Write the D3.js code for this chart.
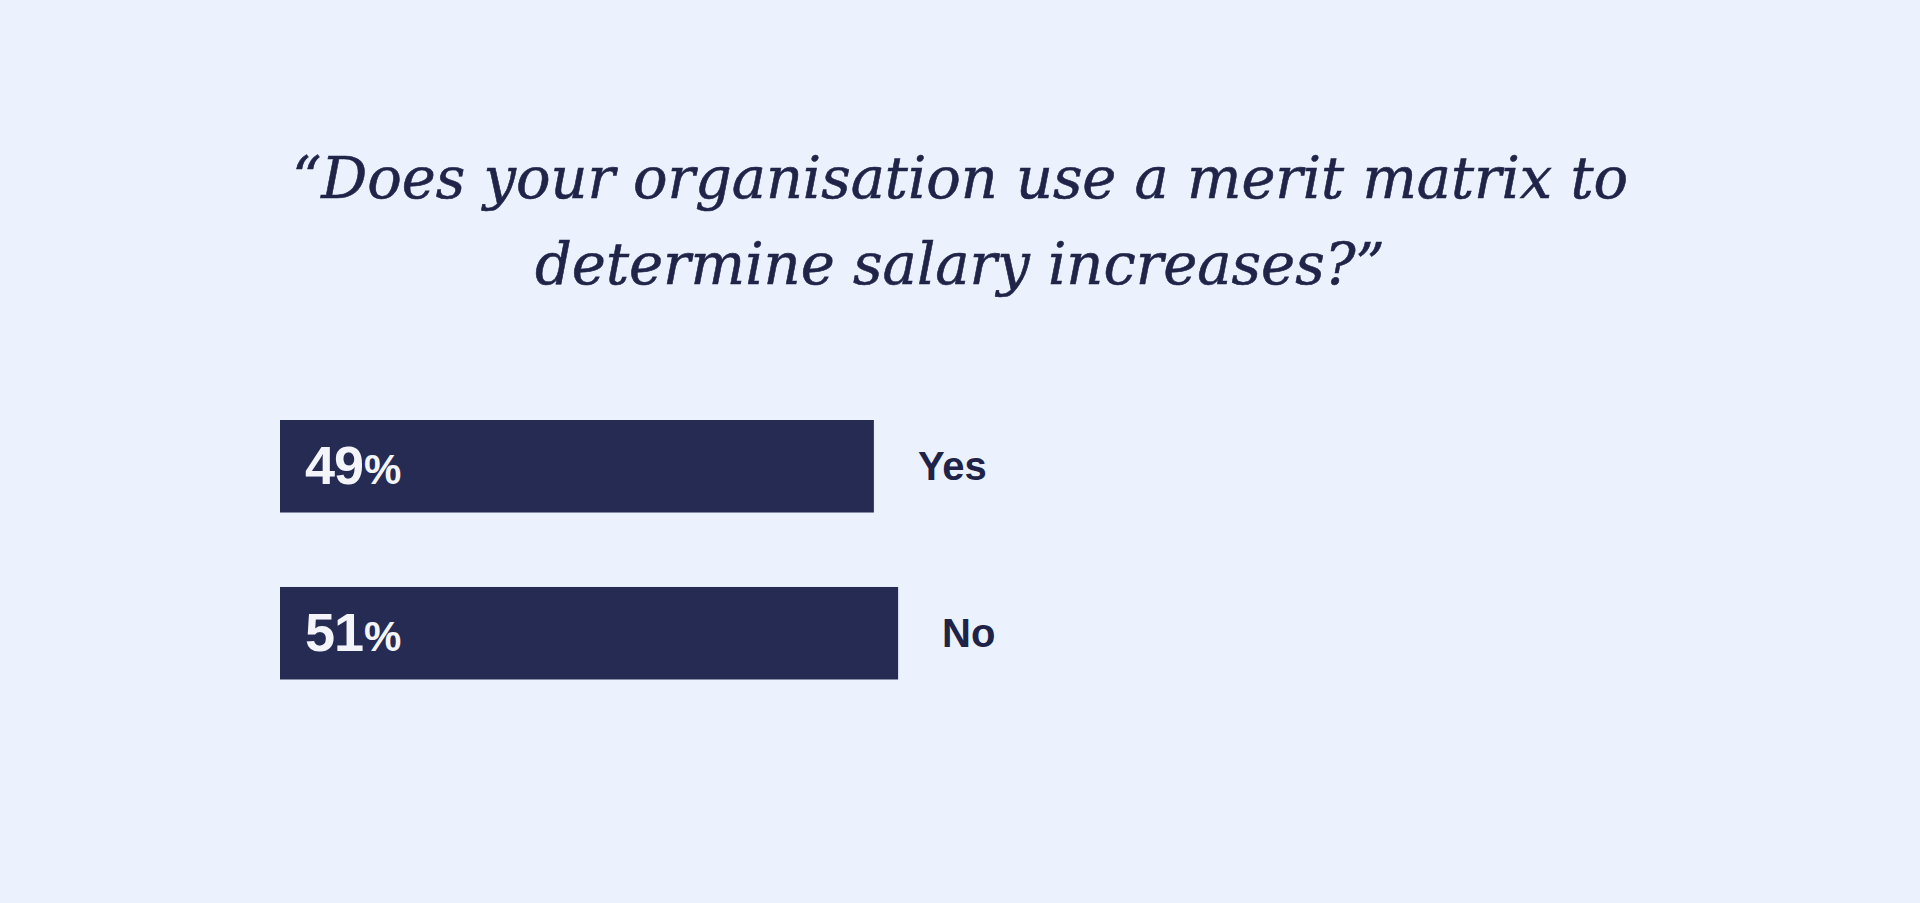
<!DOCTYPE html>
<html>
<head>
<meta charset="utf-8">
<script src="https://cdn.jsdelivr.net/npm/d3@7"></script>
<style>
  html, body { margin: 0; padding: 0; background: #EBF2FE; }
  svg { display: block; }
</style>
</head>
<body>
<div id="chart"></div>
<script>
// ---- data ----
const titleLines = ["\u201CDoes your organisation use a merit matrix to", "determine salary increases?\u201D"];
const categories = ["Yes", "No"];
const values = [49, 51];

// ---- layout ----
const W = 1920, H = 903;
const svg = d3.select("#chart").append("svg").attr("width", W).attr("height", H);
svg.append("rect").attr("width", W).attr("height", H).attr("fill", "#EBF2FE");

const x = d3.scaleLinear().domain([0, 100]).range([280, 1492]);
const y = d3.scaleBand().domain(categories).range([420, 679.5]).paddingInner(0.446).paddingOuter(0);

// title
const titleWidths = [1336, 850];
const titleY = [198, 284];
titleLines.forEach((t, i) => {
  svg.append("text")
    .attr("x", 960).attr("y", titleY[i])
    .attr("text-anchor", "middle")
    .attr("font-family", "'DejaVu Serif', serif")
    .attr("font-style", "italic")
    .attr("font-size", 57)
    .attr("fill", "#1F2448")
    .attr("stroke", "#1F2448")
    .attr("stroke-width", 0.6)
    .attr("textLength", titleWidths[i])
    .attr("lengthAdjust", "spacingAndGlyphs")
    .text(t);
});

const data = categories.map((c, i) => ({ cat: c, val: values[i] }));

const g = svg.append("g");
g.selectAll("rect.bar").data(data).join("rect")
  .attr("class", "bar")
  .attr("x", x(0))
  .attr("y", d => y(d.cat))
  .attr("width", d => x(d.val) - x(0))
  .attr("height", y.bandwidth())
  .attr("fill", "#252B52");

// value labels inside bars
const vl = g.selectAll("text.val").data(data).join("text")
  .attr("class", "val")
  .attr("x", x(0) + 25)
  .attr("y", d => y(d.cat) + y.bandwidth() / 2 + 17.5)
  .attr("fill", "#F4F5FB")
  .attr("font-family", "'Liberation Sans', Arial, sans-serif");
vl.append("tspan").attr("font-size", 54).attr("font-weight", 700).attr("letter-spacing", -1).text(d => d.val);
vl.append("tspan").attr("font-size", 42).attr("font-weight", 700).attr("dx", 1).text("%");

// category labels
g.selectAll("text.cat").data(data).join("text")
  .attr("class", "cat")
  .attr("x", d => x(d.val) + 44)
  .attr("y", d => y(d.cat) + y.bandwidth() / 2 + 14)
  .attr("fill", "#1E2347")
  .attr("font-family", "'Liberation Sans', Arial, sans-serif")
  .attr("font-size", 40)
  .attr("font-weight", 700)
  .text(d => d.cat);
</script>
</body>
</html>
